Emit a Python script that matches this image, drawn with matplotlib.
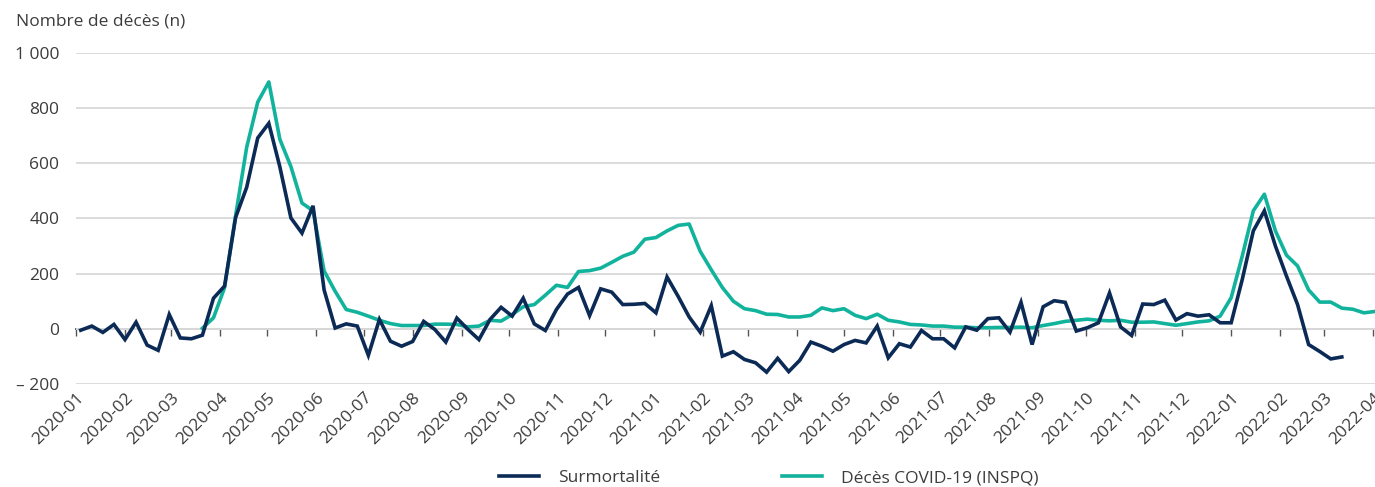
import pandas as pd
import matplotlib.pyplot as plt
import matplotlib.dates as mdates
from matplotlib.ticker import FuncFormatter

plt.rcParams['font.family'] = ['Open Sans', 'DejaVu Sans']

# weekly values
surmortalite = [-5, 10, -13, 16, -39, 24, -59, -78, 52, -33, -36, -23, 111, 155,
                404, 513, 692, 745, 587, 402, 347, 446, 141, 3, 18, 10, -96, 34,
                -45, -63, -46, 27, -2, -48, 39, -2, -39, 34, 78, 46, 111, 18, -6,
                70, 126, 150, 48, 145, 133, 88, 89, 92, 58, 188, 118, 43, -12, 84,
                -99, -83, -111, -123, -157, -107, -155, -114, -48, -63, -81, -57,
                -42, -51, 10, -105, -54, -66, -6, -36, -36, -69, 7, -5, 37, 40,
                -12, 96, -57, 80, 102, 96, -8, 4, 22, 130, 7, -24, 90, 88, 104,
                32, 55, 46, 51, 22, 22, 179, 355, 428, 300, 191, 88, -57, -82,
                -109, -102]
deces_covid = [2, 40, 149, 410, 658, 822, 895, 687, 588, 456, 428, 210, 136, 70,
               60, 46, 31, 19, 12, 12, 12, 17, 17, 16, 7, 10, 31, 28, 52, 80, 88,
               122, 158, 150, 208, 211, 220, 241, 263, 278, 325, 331, 355, 375,
               380, 281, 214, 150, 100, 73, 66, 53, 52, 43, 43, 49, 76, 66, 73,
               49, 37, 53, 31, 25, 16, 14, 10, 10, 6, 6, 4, 4, 5, 5, 6, 4, 12,
               19, 27, 31, 35, 31, 29, 31, 24, 24, 25, 19, 13, 19, 25, 29, 46,
               113, 264, 428, 488, 355, 267, 228, 141, 97, 97, 75, 71, 58, 63]

semaines_surm = pd.date_range("2020-01-04", periods=len(surmortalite), freq="7D")
semaines_covid = pd.date_range("2020-03-21", periods=len(deces_covid), freq="7D")

navy = "#0b2a55"
teal = "#12b39c"
txt = "#3c3c3c"

fig = plt.figure(figsize=(13.75, 4.87), dpi=100)
ax = fig.add_axes([76 / 1375, 103 / 487, 1 - 76 / 1375, 331 / 487])

ax.plot(semaines_surm, surmortalite, color=navy, lw=2.6, label="Surmortalité",
        solid_joinstyle="miter", zorder=4)
ax.plot(semaines_covid, deces_covid, color=teal, lw=2.6,
        label="Décès COVID-19 (INSPQ)", zorder=3)

ax.set_ylim(-200, 1000)
ax.set_yticks(range(-200, 1001, 200))
ax.set_xlim(pd.Timestamp("2020-01-01"), pd.Timestamp("2022-04-02"))

def fmt_y(v, pos):
    s = f"{abs(int(v)):,}".replace(",", " ")
    return "\u2013 " + s if v < 0 else s

ax.yaxis.set_major_formatter(FuncFormatter(fmt_y))
ax.grid(axis="y", color="#dcdcdc", lw=1.4)
ax.set_axisbelow(True)
for s in ax.spines.values():
    s.set_visible(False)

ax.xaxis.set_major_locator(mdates.MonthLocator())
ax.xaxis.set_major_formatter(mdates.DateFormatter("%Y-%m"))
ax.tick_params(axis="y", length=0, pad=12, labelsize=12.5, labelcolor=txt)
ax.tick_params(axis="x", length=0, pad=4, labelsize=12.5, labelcolor=txt)
plt.setp(ax.get_xticklabels(), rotation=45, ha="right", va="top",
         rotation_mode="anchor")

# zero line with month ticks
zero = ax.secondary_xaxis(0, transform=ax.transData)
zero.xaxis.set_major_locator(mdates.MonthLocator())
zero.tick_params(axis="x", direction="out", length=5, width=1, color="#555555",
                 labelbottom=False)
zero.spines["bottom"].set_color("black")
zero.spines["bottom"].set_linewidth(1.1)

fig.text(16 / 1375, 1 - 22 / 487, "Nombre de décès (n)", fontsize=12.5,
         color=txt, va="center", ha="left")

fig.legend(loc="center", bbox_to_anchor=(769 / 1375, 9 / 487), ncol=2,
           frameon=False, fontsize=12.5, labelcolor=txt, handlelength=2.3,
           handletextpad=1.1, columnspacing=7)

fig.savefig("out.png", dpi=100)
